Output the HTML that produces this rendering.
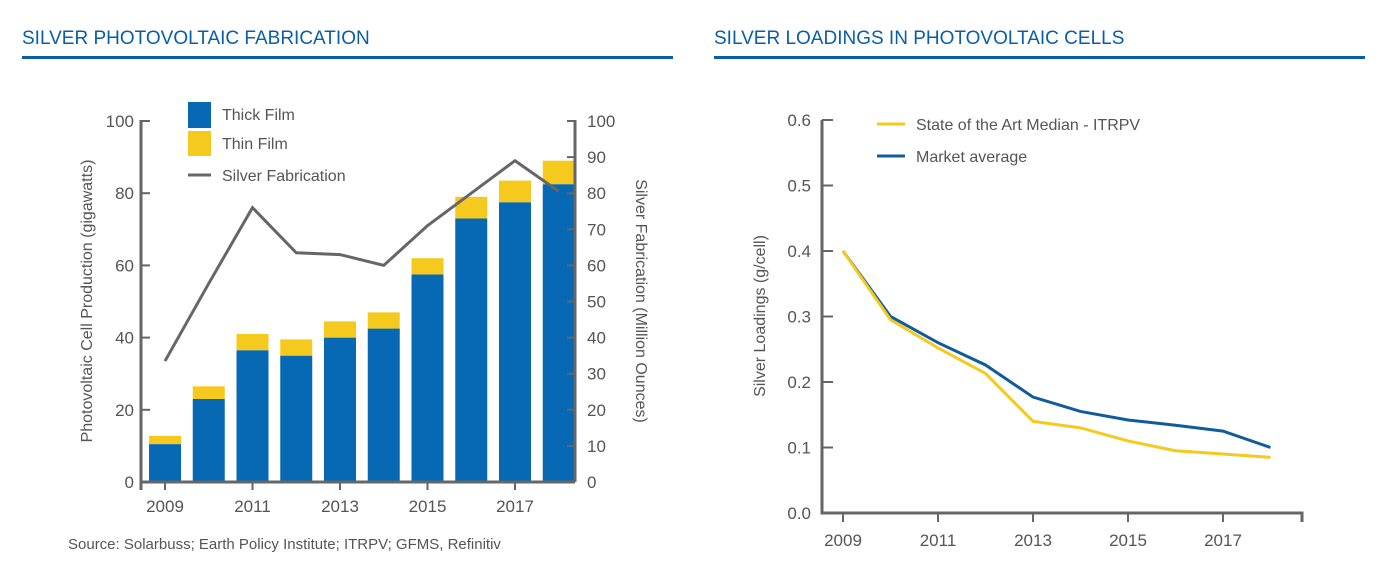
<!DOCTYPE html>
<html><head><meta charset="utf-8"><style>
body{margin:0;background:#fff;width:1400px;height:582px;overflow:hidden;font-family:"Liberation Sans",sans-serif}
svg text{font-family:"Liberation Sans",sans-serif;fill:#555}
</style></head><body>
<svg id="s" width="1400" height="582">
<text x="22" y="44" style="fill:#0a5ea8;font-size:19px">SILVER PHOTOVOLTAIC FABRICATION</text>
<rect x="22" y="56" width="651" height="3" fill="#0a5ea8"/>
<text x="714" y="44" style="fill:#0a5ea8;font-size:19px">SILVER LOADINGS IN PHOTOVOLTAIC CELLS</text>
<rect x="714" y="56" width="651" height="3" fill="#0a5ea8"/>
<text x="68" y="549" style="font-size:15px">Source: Solarbuss; Earth Policy Institute; ITRPV; GFMS, Refinitiv</text>
<g id="L"></g><g id="R"></g>
</svg>
<script>
const years=[2009,2010,2011,2012,2013,2014,2015,2016,2017,2018];
const thick=[10.5,23,36.5,35,40,42.5,57.5,73,77.5,82.5];
const thin=[2.3,3.5,4.5,4.5,4.5,4.5,4.5,6,6,6.5];
const silverFab=[33.5,55,76,63.5,63,60,71,80,89,80.5];
const stateArt=[0.4,0.295,0.252,0.213,0.14,0.13,0.11,0.095,0.09,0.085];
const marketAvg=[0.4,0.3,0.26,0.226,0.177,0.155,0.142,0.134,0.125,0.1];
const leftTicks=[0,20,40,60,80,100];
const rightTicks=[0,10,20,30,40,50,60,70,80,90,100];
const loadTicks=[0,0.1,0.2,0.3,0.4,0.5,0.6];
const xLabels=[2009,2011,2013,2015,2017];
const NS="http://www.w3.org/2000/svg";
function mk(p,t,a,txt){const e=document.createElementNS(NS,t);for(const k in a)e.setAttribute(k,a[k]);if(txt!==undefined)e.textContent=txt;p.appendChild(e);return e;}
const L=document.getElementById('L'),R=document.getElementById('R');
const lx=y=>165+(y-2009)*43.75, ly=v=>482-v*3.61, ry=v=>482-v*3.61;
let e;
years.forEach((y,i)=>{
 e=mk(L,'rect',{x:lx(y)-16,y:ly(thick[i]),width:32,height:482-ly(thick[i]),fill:'#0769b4'});
 
 
 e=mk(L,'rect',{x:lx(y)-16,y:ly(thick[i]+thin[i]),width:32,height:ly(thick[i])-ly(thick[i]+thin[i]),fill:'#f6c91f'});
 
 
});
e=mk(L,'polyline',{points:years.map((y,i)=>lx(y)+','+ry(silverFab[i])).join(' '),fill:'none',stroke:'#666',"stroke-width":3});


e=mk(L,'path',{d:'M141 120V482H575M575 120V482M141 482V490',stroke:'#666',"stroke-width":3,fill:'none'});


leftTicks.forEach(v=>{mk(L,'line',{x1:141,x2:150,y1:ly(v),y2:ly(v),stroke:'#666',"stroke-width":2});
 e=mk(L,'text',{x:134,y:ly(v)+6,"text-anchor":"end","font-size":17},v);
 
 });
rightTicks.forEach(v=>{mk(L,'line',{x1:567,x2:575,y1:ry(v),y2:ry(v),stroke:'#666',"stroke-width":2});
 e=mk(L,'text',{x:587,y:ry(v)+6,"font-size":17},v);
 
 });
xLabels.forEach(y=>{mk(L,'line',{x1:lx(y),x2:lx(y),y1:482,y2:490,stroke:'#666',"stroke-width":2});
 e=mk(L,'text',{x:lx(y),y:512,"text-anchor":"middle","font-size":17},y);
 
 });
e=mk(L,'text',{transform:'translate(92,301) rotate(-90)',"text-anchor":"middle","font-size":16},'Photovoltaic Cell Production (gigawatts)');


e=mk(L,'text',{transform:'translate(636,301) rotate(90)',"text-anchor":"middle","font-size":16},'Silver Fabrication (Million Ounces)');


[['rect',{x:188,y:102,width:23,height:26,fill:'#0769b4'},'Thick Film',120],['rect',{x:188,y:131,width:23,height:25,fill:'#f6c91f'},'Thin Film',149],['line',{x1:188,x2:211,y1:175,y2:175,stroke:'#666',"stroke-width":3},'Silver Fabrication',181]].forEach(l=>{
 e=mk(L,l[0],l[1]);
 e=mk(L,'text',{x:222,y:l[3],"font-size":16},l[2]);});
const px=y=>843+(y-2009)*47.5, py=v=>513-v*655;
e=mk(R,'path',{d:'M822 120V513H1302V522',stroke:'#666',"stroke-width":3,fill:'none'});


loadTicks.forEach(v=>{mk(R,'line',{x1:822,x2:833,y1:py(v),y2:py(v),stroke:'#666',"stroke-width":2});
 e=mk(R,'text',{x:811,y:py(v)+6,"text-anchor":"end","font-size":17},v.toFixed(1));
 
 });
xLabels.forEach(y=>{mk(R,'line',{x1:px(y),x2:px(y),y1:513,y2:522,stroke:'#666',"stroke-width":2});
 e=mk(R,'text',{x:px(y),y:546,"text-anchor":"middle","font-size":17},y);
 
 });
e=mk(R,'polyline',{points:years.map((y,i)=>px(y)+','+py(marketAvg[i])).join(' '),fill:'none',stroke:'#0f5c9c',"stroke-width":3});


e=mk(R,'polyline',{points:years.map((y,i)=>px(y)+','+py(stateArt[i])).join(' '),fill:'none',stroke:'#f6c91f',"stroke-width":3});


e=mk(R,'text',{transform:'translate(765,316) rotate(-90)',"text-anchor":"middle","font-size":16},'Silver Loadings (g/cell)');


[['#f6c91f','State of the Art Median - ITRPV',129],['#0f5c9c','Market average',161]].forEach(l=>{
 e=mk(R,'line',{x1:877,x2:905,y1:l[2]-5,y2:l[2]-5,stroke:l[0],"stroke-width":3});
 e=mk(R,'text',{x:916,y:l[2]+1,"font-size":16},l[1]);});
</script>
</body></html>
